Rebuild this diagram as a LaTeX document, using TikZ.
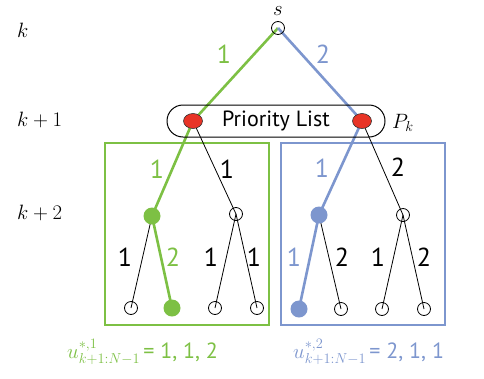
\documentclass[tikz,border=0pt]{standalone}
\usepackage{fontspec}
\setsansfont{PT Sans}
\usetikzlibrary{shapes.geometric, backgrounds}
\definecolor{pgreen}{RGB}{125,192,68}
\definecolor{pblue}{RGB}{125,150,206}
\definecolor{pred}{RGB}{232,52,38}

\begin{document}
\begin{tikzpicture}[x=1pt, y=-1pt,
    open/.style={circle, draw, line width=0.8pt, inner sep=0pt, minimum size=13pt},
    full/.style={circle, fill=#1, inner sep=0pt, minimum size=17pt},
    redn/.style={ellipse, fill=pred, draw=black!80, line width=0.6pt, inner sep=0pt,
                 minimum width=19pt, minimum height=15pt},
    num/.style={font=\sffamily\fontsize{26}{26}\selectfont, inner sep=0pt},
    lev/.style={font=\fontsize{20}{20}\selectfont, anchor=west, inner sep=0pt},
    wire/.style={line width=0.8pt},
    hot/.style={line width=2.6pt, draw=#1}]

    % picture frame
    \useasboundingbox (0,0) rectangle (484,378);

    % stage labels
    \node[lev] (lk)  at (17,30)  {$k$};
    \node[lev] (lk1) at (17,120) {$k+1$};
    \node[lev] (lk2) at (17,213) {$k+2$};

    % root
    \node[open] (s) at (278,28) {};
    \node[font=\fontsize{20}{20}\selectfont, inner sep=0pt] (slab) at (278,11) {$s$};

    % priority list with its two entries
    \node[draw, line width=1pt, rounded corners=16pt, minimum width=218pt, minimum height=32pt,
          font=\sffamily\fontsize{22}{22}\selectfont] (plist) at (276,121) {Priority List};
    \node[redn] (r1) at (193,121) {};
    \node[redn] (r2) at (362,121) {};
    \node[lev] (pk) at (392,123) {$P_k$};

    % stage k+2
    \node[full=pgreen] (g2) at (152,216) {};
    \node[open] (o2a) at (236,214) {};
    \node[full=pblue] (b2) at (319,215) {};
    \node[open] (o2b) at (403,215) {};

    % leaves
    \node[open] (l1) at (131,308) {};
    \node[full=pgreen] (l2) at (172,308) {};
    \node[open] (l3) at (215,308) {};
    \node[open] (l4) at (257,308) {};
    \node[full=pblue] (l5) at (299,309) {};
    \node[open] (l6) at (341,309) {};
    \node[open] (l7) at (382,309) {};
    \node[open] (l8) at (424,309) {};

    % boxes and edges behind the nodes
    \begin{scope}[on background layer]
        \draw[pgreen, line width=2.5pt] (105,143) rectangle (269,325);
        \draw[pblue, line width=2.5pt] (281,143) rectangle (445,325);

        \draw[wire] (r1.center) -- (o2a.center) -- (l3.center);
        \draw[wire] (o2a.center) -- (l4.center);
        \draw[wire] (g2.center) -- (l1.center);
        \draw[wire] (r2.center) -- (o2b.center) -- (l7.center);
        \draw[wire] (o2b.center) -- (l8.center);
        \draw[wire] (b2.center) -- (l6.center);

        \draw[hot=pgreen] (s.center) -- (r1.center) -- (g2.center) -- (l2.center);
        \draw[hot=pblue] (s.center) -- (r2.center) -- (b2.center) -- (l5.center);
    \end{scope}

    % edge labels
    \node[num, pgreen] (n1) at (224,54) {1};
    \node[num, pblue]  (n2) at (323,54) {2};
    \node[num, pgreen] (n3) at (157,169) {1};
    \node[num]         (n4) at (227,169) {1};
    \node[num, pblue]  (n5) at (322,168) {1};
    \node[num]         (n6) at (398,167) {2};
    \node[num]         (n7) at (125,257) {1};
    \node[num, pgreen] (n8) at (173,257) {2};
    \node[num]         (n9) at (211,257) {1};
    \node[num]        (n10) at (254,257) {1};
    \node[num, pblue] (n11) at (294,257) {1};
    \node[num]        (n12) at (342,257) {2};
    \node[num]        (n13) at (378,257) {1};
    \node[num]        (n14) at (424,257) {2};

    % resulting control sequences
    \node[lev, pgreen] (ug) at (67,352)
        {$u^{*,1}_{k+1:N-1}$\,{\sffamily\fontsize{22}{22}\selectfont= 1, 1, 2}};
    \node[lev, pblue] (ub) at (293,352)
        {$u^{*,2}_{k+1:N-1}$\,{\sffamily\fontsize{22}{22}\selectfont= 2, 1, 1}};

\end{tikzpicture}
\end{document}
